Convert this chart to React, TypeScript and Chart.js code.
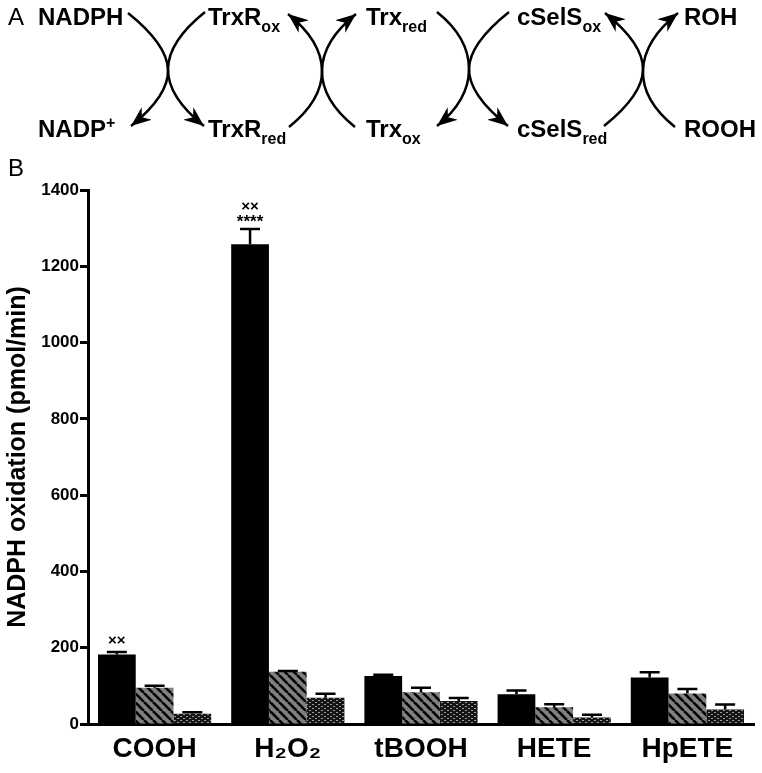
import React, { useEffect, useRef } from "react";
import { Chart, registerables } from "chart.js";

Chart.register(...registerables);

const categories = ["COOH", "H₂O₂", "tBOOH", "HETE", "HpETE"];
const blackValues = [182, 1258, 126, 78, 122];
const blackErrors = [7, 40, 3, 10, 14];
const stripeValues = [95, 137, 83, 44, 80];
const stripeErrors = [5, 2, 12, 8, 12];
const dotValues = [27, 69, 60, 17, 38];
const dotErrors = [4, 10, 8, 7, 13];
const yTicks = [0, 200, 400, 600, 800, 1000, 1200, 1400];
const yTitle = "NADPH oxidation (pmol/min)";

const FONT = "'Liberation Sans', Arial, Helvetica, sans-serif";

function makeStripe(ctxSrc: CanvasRenderingContext2D) {
  const c = document.createElement("canvas");
  c.width = 9;
  c.height = 9;
  const g = c.getContext("2d")!;
  g.fillStyle = "#808080";
  g.fillRect(0, 0, 9, 9);
  g.strokeStyle = "#000";
  g.lineWidth = 2.6;
  for (const o of [-9, 0, 9]) {
    g.beginPath();
    g.moveTo(o, 0);
    g.lineTo(o + 9, 9);
    g.stroke();
  }
  return ctxSrc.createPattern(c, "repeat")!;
}

function makeDots(ctxSrc: CanvasRenderingContext2D) {
  const c = document.createElement("canvas");
  c.width = 6;
  c.height = 4;
  const g = c.getContext("2d")!;
  g.fillStyle = "#151515";
  g.fillRect(0, 0, 6, 4);
  g.fillStyle = "#9a9a9a";
  g.fillRect(0, 0, 2, 1);
  g.fillRect(3, 2, 2, 1);
  return ctxSrc.createPattern(c, "repeat")!;
}

const errorsList = [blackErrors, stripeErrors, dotErrors];

const errorBarPlugin = {
  id: "errorBars",
  afterDatasetsDraw(chart: any) {
    const ctx = chart.ctx as CanvasRenderingContext2D;
    const y = chart.scales.y;
    ctx.save();
    ctx.strokeStyle = "#000";
    ctx.lineWidth = 2.5;
    chart.data.datasets.forEach((ds: any, i: number) => {
      const meta = chart.getDatasetMeta(i);
      meta.data.forEach((bar: any, j: number) => {
        const v = ds.data[j];
        const e = errorsList[i][j];
        const yTop = y.getPixelForValue(v + e);
        ctx.beginPath();
        ctx.moveTo(bar.x, bar.y);
        ctx.lineTo(bar.x, yTop);
        ctx.moveTo(bar.x - 10, yTop);
        ctx.lineTo(bar.x + 10, yTop);
        ctx.stroke();
      });
    });
    const meta0 = chart.getDatasetMeta(0);
    ctx.fillStyle = "#000";
    ctx.textAlign = "center";
    ctx.textBaseline = "middle";
    const b0 = meta0.data[0];
    const cap0 = y.getPixelForValue(blackValues[0] + blackErrors[0]);
    ctx.font = `bold 15px ${FONT}`;
    ctx.fillText("××", b0.x, cap0 - 11);
    const b1 = meta0.data[1];
    const cap1 = y.getPixelForValue(blackValues[1] + blackErrors[1]);
    ctx.font = `bold 17px ${FONT}`;
    ctx.fillText("****", b1.x, cap1 - 7);
    ctx.font = `bold 15px ${FONT}`;
    ctx.fillText("××", b1.x, cap1 - 22);
    ctx.restore();
  },
};

function arcPath(x0: number, y0: number, x1: number, y1: number, xm: number) {
  const k = (xm - 0.5 * (x0 + x1)) / 0.75;
  const dy = 0.8 * Math.abs(k) * Math.sign(y1 - y0);
  return `M${x0},${y0} C${x0 + k},${y0 + dy} ${x1 + k},${y1 - dy} ${x1},${y1}`;
}

function Scheme() {
  const t = { fontFamily: FONT, fontWeight: 700 as const, fontSize: 24, fill: "#000" };
  const sub = { fontSize: 16 };
  const arrows = [
    arcPath(128, 13, 131, 126, 168),
    arcPath(205, 12, 204, 126, 168),
    arcPath(289, 127, 288, 14, 322),
    arcPath(355, 127, 356, 14, 322),
    arcPath(437, 12, 437, 126, 469),
    arcPath(509, 12, 508, 126, 469),
    arcPath(604, 126, 605, 13, 643),
    arcPath(675, 127, 678, 13, 643),
  ];
  return (
    <svg
      width={762}
      height={773}
      style={{ position: "absolute", left: 0, top: 0, pointerEvents: "none" }}
    >
      <defs>
        <marker
          id="ah"
          markerUnits="userSpaceOnUse"
          markerWidth={22}
          markerHeight={16}
          refX={20}
          refY={8}
          orient="auto"
          viewBox="0 0 22 16"
        >
          <path d="M0,0 L20,8 L0,16 L6,8 z" fill="#000" />
        </marker>
      </defs>
      <text x={8} y={25} style={{ fontFamily: FONT, fontSize: 24, fill: "#000" }}>A</text>
      <text x={8} y={176} style={{ fontFamily: FONT, fontSize: 24, fill: "#000" }}>B</text>
      <text x={38} y={25} style={t}>NADPH</text>
      <text x={208} y={25} style={t}>TrxR<tspan dy={7} style={sub}>ox</tspan></text>
      <text x={366} y={25} style={t}>Trx<tspan dy={7} style={sub}>red</tspan></text>
      <text x={517} y={25} style={t}>cSelS<tspan dy={7} style={sub}>ox</tspan></text>
      <text x={684} y={25} style={t}>ROH</text>
      <text x={38} y={137} style={t}>NADP<tspan dy={-9} style={sub}>+</tspan></text>
      <text x={208} y={137} style={t}>TrxR<tspan dy={7} style={sub}>red</tspan></text>
      <text x={366} y={137} style={t}>Trx<tspan dy={7} style={sub}>ox</tspan></text>
      <text x={517} y={137} style={t}>cSelS<tspan dy={7} style={sub}>red</tspan></text>
      <text x={684} y={137} style={t}>ROOH</text>
      {arrows.map((d, i) => (
        <path key={i} d={d} fill="none" stroke="#000" strokeWidth={2.5} markerEnd="url(#ah)" />
      ))}
    </svg>
  );
}

export default function App() {
  const ref = useRef<HTMLCanvasElement>(null);
  useEffect(() => {
    document.body.style.margin = "0";
    const canvas = ref.current!;
    const ctx = canvas.getContext("2d")!;
    const stripe = makeStripe(ctx);
    const dots = makeDots(ctx);
    const chart = new Chart(canvas, {
      type: "bar",
      data: {
        labels: categories,
        datasets: [
          { data: blackValues, backgroundColor: "#000", borderWidth: 0 },
          { data: stripeValues, backgroundColor: stripe as any, borderWidth: 0 },
          { data: dotValues, backgroundColor: dots as any, borderWidth: 0 },
        ],
      },
      options: {
        responsive: false,
        animation: false,
        events: [],
        layout: { padding: { top: 190, right: 8, left: 0, bottom: 0 } },
        plugins: { legend: { display: false }, tooltip: { enabled: false } },
        datasets: { bar: { categoryPercentage: 0.85, barPercentage: 1.0 } },
        scales: {
          x: {
            grid: { display: true, drawOnChartArea: false, drawTicks: false },
            border: { display: true, width: 3, color: "#000" },
            ticks: {
              color: "#000",
              font: { family: FONT, size: 28, weight: "bold" },
              padding: 8,
            },
            afterFit: (s: any) => {
              s.height = 49;
            },
          },
          y: {
            min: 0,
            max: 1400,
            afterBuildTicks: (s: any) => {
              s.ticks = yTicks.map((v) => ({ value: v }));
            },
            grid: {
              display: true,
              drawOnChartArea: false,
              drawTicks: true,
              tickLength: 8,
              tickWidth: 3,
              tickColor: "#000",
            },
            border: { display: true, width: 3, color: "#000" },
            ticks: {
              color: "#000",
              font: { family: FONT, size: 17, weight: "bold" },
              padding: 1,
              callback: (v: any) => String(v),
            },
            title: {
              display: true,
              text: yTitle,
              color: "#000",
              font: { family: FONT, size: 25, weight: "bold" },
              padding: { top: 3, bottom: 0 },
            },
            afterFit: (s: any) => {
              s.width = 88;
            },
          },
        },
      },
      plugins: [errorBarPlugin],
    });
    return () => chart.destroy();
  }, []);
  return (
    <div style={{ position: "relative", width: 762, height: 773, background: "#fff" }}>
      <canvas ref={ref} width={762} height={773} style={{ position: "absolute", left: 0, top: 0 }} />
      <Scheme />
    </div>
  );
}
